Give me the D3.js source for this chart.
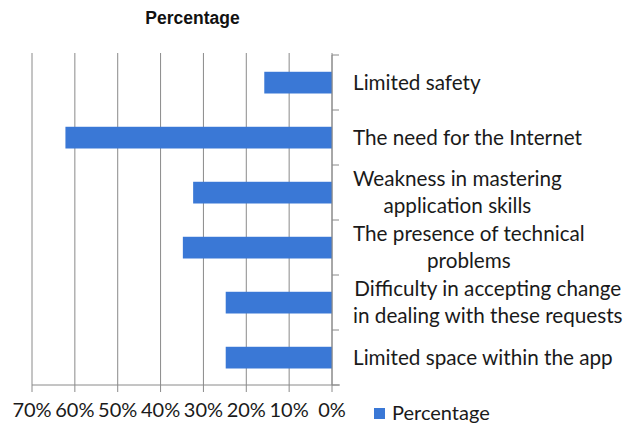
<!DOCTYPE html>
<html>
<head>
<meta charset="utf-8">
<script src="https://cdn.jsdelivr.net/npm/d3@7"></script>
<style>
  body { margin: 0; background: #fff; }
  svg { display: block; }
</style>
</head>
<body>
<div id="chart"></div>
<script>
// categories, top to bottom (each label split in its lines)
var categories = [
  ['Limited safety'],
  ['The need for the Internet'],
  ['Weakness in mastering', 'application skills'],
  ['The presence of technical', 'problems'],
  ['Difficulty in accepting change', 'in dealing with these requests'],
  ['Limited space within the app']
];
var values = [15.8, 62.2, 32.4, 34.8, 24.8, 24.8];
var tickValues = [0, 10, 20, 30, 40, 50, 60, 70];
var title = 'Percentage';
var seriesName = 'Percentage';

var W = 641, H = 428;
var plotLeft = 32, plotRight = 332, plotTop = 55, plotBottom = 385;
var barColor = '#3a78d6';
var labelFont = 'Lato, "Open Sans", sans-serif';

var svg = d3.select('#chart').append('svg')
  .attr('width', W).attr('height', H);

var x = d3.scaleLinear().domain([0, 70]).range([plotRight, plotLeft]);
var y = d3.scaleBand().domain(d3.range(categories.length)).range([plotTop, plotBottom]).padding(0);

// title
svg.append('text')
  .attr('x', 192.5).attr('y', 24)
  .attr('text-anchor', 'middle')
  .style('font-family', '"Liberation Sans", Arial, sans-serif')
  .style('font-weight', 'bold').style('font-size', '17.5px')
  .style('fill', '#111')
  .text(title);

// vertical gridlines
svg.selectAll('.grid')
  .data(tickValues)
  .enter()
  .append('line')
  .classed('grid', true)
  .attr('x1', function(d){return x(d);})
  .attr('x2', function(d){return x(d);})
  .attr('y1', 53).attr('y2', plotBottom + 7)
  .style('stroke', '#8a8a8a').style('stroke-width', 1);

// bars
svg.selectAll('.bar')
  .data(values)
  .enter()
  .append('rect')
  .classed('bar', true)
  .attr('x', function(d){return x(d);})
  .attr('y', function(d, i){return y(i) + y.bandwidth() * 0.305;})
  .attr('width', function(d){return x(0) - x(d);})
  .attr('height', y.bandwidth() * 0.395)
  .style('fill', barColor);

// x axis line
svg.append('line')
  .attr('x1', x(70)).attr('x2', x(0) + 8)
  .attr('y1', plotBottom).attr('y2', plotBottom)
  .style('stroke', '#8a8a8a').style('stroke-width', 1);

// category axis on the right side
svg.append('line')
  .attr('x1', x(0)).attr('x2', x(0))
  .attr('y1', plotTop).attr('y2', plotBottom)
  .style('stroke', '#8a8a8a').style('stroke-width', 1);

svg.selectAll('.ytick')
  .data(d3.range(categories.length + 1))
  .enter()
  .append('line')
  .classed('ytick', true)
  .attr('x1', x(0)).attr('x2', x(0) + 7)
  .attr('y1', function(d){return plotTop + d * y.step();})
  .attr('y2', function(d){return plotTop + d * y.step();})
  .style('stroke', '#8a8a8a').style('stroke-width', 1);

// x tick labels
svg.selectAll('.xlabel')
  .data(tickValues)
  .enter()
  .append('text')
  .classed('xlabel', true)
  .attr('x', function(d){return x(d);})
  .attr('y', 417)
  .attr('text-anchor', 'middle')
  .style('font-family', labelFont).style('font-size', '20px')
  .style('fill', '#1a1a1a')
  .text(function(d){return d + '%';});

// category labels, lines centred on the block, block starts at 353
var lineH = 27;
categories.forEach(function(lines, i) {
  var cy = y(i) + y.bandwidth() / 2;
  var t = svg.append('text')
    .attr('text-anchor', 'middle')
    .style('font-family', labelFont).style('font-size', '20.7px')
    .style('fill', '#1a1a1a');
  lines.forEach(function(line, j) {
    t.append('tspan')
      .attr('x', 0)
      .attr('y', cy + (j - (lines.length - 1) / 2) * lineH + 7)
      .text(line);
  });
  var maxW = d3.max(t.selectAll('tspan').nodes(), function(n){return n.getComputedTextLength();});
  t.attr('transform', 'translate(' + (353 + maxW / 2) + ',0)');
});

// legend
svg.append('rect')
  .attr('x', 374).attr('y', 408).attr('width', 11).attr('height', 11)
  .style('fill', barColor);
svg.append('text')
  .attr('x', 392).attr('y', 420)
  .style('font-family', labelFont).style('font-size', '20px')
  .style('fill', '#1a1a1a')
  .text(seriesName);
</script>
</body>
</html>
